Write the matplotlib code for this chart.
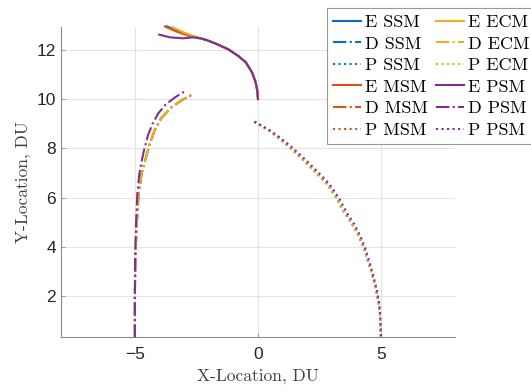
"""
Trajectory comparison - E / D / P paths for four models (SSM, MSM, ECM, PSM)
"""
import matplotlib
matplotlib.use('Agg')
import matplotlib.pyplot as plt

# ---- data (DU) ----
# E path: shared arc from (0, 10), then the models split near x = -2.3
e_arc_x = [0.0, -0.03, -0.1, -0.25, -0.5, -0.8, -1.2, -1.68, -2.09, -2.3]
e_arc_y = [10.0, 10.35, 10.7, 11.1, 11.5, 11.75, 12.02, 12.24, 12.4, 12.46]

e_ssm_x = e_arc_x + [-2.8, -3.25, -3.71]
e_ssm_y = e_arc_y + [12.6, 12.77, 12.96]
e_msm_x = e_arc_x + [-2.8, -3.3, -3.78]
e_msm_y = e_arc_y + [12.57, 12.74, 12.95]
e_ecm_x = e_arc_x + [-2.63, -3.04, -3.47]
e_ecm_y = e_arc_y + [12.57, 12.72, 12.92]
e_psm_x = e_arc_x + [-2.63, -3.04, -3.58, -4.01]
e_psm_y = e_arc_y + [12.51, 12.47, 12.51, 12.62]

# D path: rises from (-5, 0.3) and bends right
d_ecm_x = [-5.0, -5.0, -4.98, -4.93, -4.85, -4.72, -4.57, -4.39, -4.19, -3.91, -3.51, -3.1, -2.63]
d_ecm_y = [0.3, 2.0, 3.5, 4.8, 6.1, 7.0, 7.55, 8.2, 8.75, 9.25, 9.67, 9.95, 10.21]
d_psm_x = [-5.0, -5.0, -4.99, -4.96, -4.9, -4.82, -4.72, -4.6, -4.46, -4.28, -4.05, -3.75, -3.37, -2.97]
d_psm_y = [0.3, 2.0, 3.5, 4.79, 6.15, 6.95, 7.5, 8.05, 8.55, 9.0, 9.42, 9.78, 10.07, 10.32]
d_ssm_x, d_ssm_y = d_ecm_x, d_ecm_y
d_msm_x, d_msm_y = d_ecm_x, d_ecm_y

# P path: falls from (0, 9) to (5, 0.3)
p_psm_x = [-0.15, 0.0, 0.5, 0.9, 1.3, 1.7, 2.1, 2.5, 2.9, 3.3, 3.6, 3.9, 4.15, 4.37, 4.55, 4.7, 4.83, 4.92, 4.96, 5.0]
p_psm_y = [9.08, 9.0, 8.72, 8.43, 8.11, 7.75, 7.37, 6.97, 6.55, 5.96, 5.4, 4.93, 4.45, 3.9, 3.3, 2.75, 2.22, 1.7, 1.27, 0.32]
p_ecm_x = [-0.15, 0.0, 0.45, 0.82, 1.2, 1.6, 2.0, 2.4, 2.8, 3.2, 3.5, 3.82, 4.08, 4.31, 4.5, 4.67, 4.8, 4.9, 4.95, 4.99]
p_ecm_y = p_psm_y
p_ssm_x, p_ssm_y = p_ecm_x, p_ecm_y
p_msm_x, p_msm_y = p_ecm_x, p_ecm_y

x_ticks = [-5, 0, 5]
y_ticks = [2, 4, 6, 8, 10, 12]

# ---- styling ----
colors = {'SSM': '#0072BD', 'MSM': '#D95319', 'ECM': '#EDB120', 'PSM': '#7E2F8E'}
series = [
    ('E SSM', e_ssm_x, e_ssm_y, '-'), ('D SSM', d_ssm_x, d_ssm_y, '-.'), ('P SSM', p_ssm_x, p_ssm_y, ':'),
    ('E MSM', e_msm_x, e_msm_y, '-'), ('D MSM', d_msm_x, d_msm_y, '-.'), ('P MSM', p_msm_x, p_msm_y, ':'),
    ('E ECM', e_ecm_x, e_ecm_y, '-'), ('D ECM', d_ecm_x, d_ecm_y, '-.'), ('P ECM', p_ecm_x, p_ecm_y, ':'),
    ('E PSM', e_psm_x, e_psm_y, '-'), ('D PSM', d_psm_x, d_psm_y, '-.'), ('P PSM', p_psm_x, p_psm_y, ':'),
]

serif = ['cmr10', 'DejaVu Serif']
sans = ['Liberation Sans', 'DejaVu Sans']

fig = plt.figure(figsize=(5.31, 3.92), dpi=100)
ax = fig.add_axes([61 / 531, 1 - 337 / 392, (455 - 61) / 531, (337 - 27) / 392])

for label, xs, ys, ls in series:
    ax.plot(xs, ys, linestyle=ls, color=colors[label[2:]], linewidth=1.5, label=label,
            clip_on=(ls != '-'))

ax.set_xlim(-8, 8)
ax.set_ylim(0.33, 12.93)
ax.set_xticks(x_ticks)
ax.set_yticks(y_ticks)
ax.grid(True, color='#e3e3e3', linewidth=0.8)
ax.set_axisbelow(True)

ax.spines[['top', 'right']].set_visible(False)
ax.spines[['left', 'bottom']].set_color('#8a8a8a')
ax.spines[['left', 'bottom']].set_linewidth(0.8)
ax.tick_params(direction='in', length=3, width=0.6, color='#8a8a8a', labelcolor='#262626', labelsize=12.5)
ax.tick_params(axis='x', pad=7)
for lbl in ax.get_xticklabels() + ax.get_yticklabels():
    lbl.set_family(sans)

ax.set_xlabel('X-Location, DU', family=serif, fontsize=12.5, color='#404040', labelpad=5)
ax.set_ylabel('Y-Location, DU', family=serif, fontsize=12.5, color='#404040', labelpad=4)

leg = fig.legend(loc='upper left', bbox_to_anchor=(327 / 531, 1 - 8 / 392), ncol=2,
                 prop={'family': serif, 'size': 13}, fancybox=False, edgecolor='#999999',
                 framealpha=1, handlelength=1.55, handletextpad=0.2, columnspacing=0.45,
                 labelspacing=0.33, borderpad=0.35, borderaxespad=0)
leg.get_frame().set_linewidth(0.8)

fig.savefig('out.png', dpi=100, facecolor='white')
